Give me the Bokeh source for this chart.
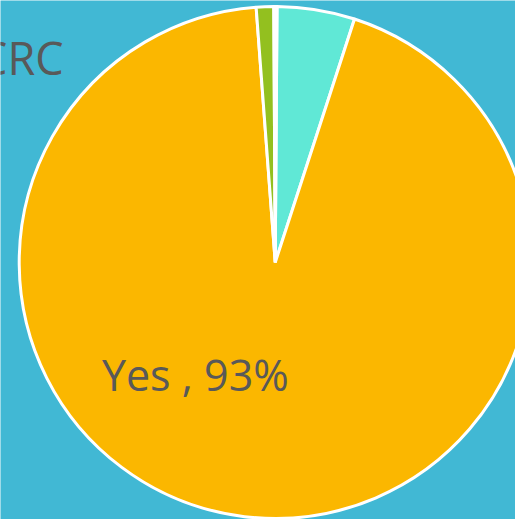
import math
from bokeh.plotting import figure
from bokeh.models import Range1d, ColumnDataSource, Label
from bokeh.embed import file_html
from bokeh.resources import INLINE

# data
categories = ["No", "Yes", "Unknown", "Other"]
shares = [4.9, 93.8, 1.1, 0.2]
colors = ["#60E8D6", "#FBB700", "#93C01F", "#FFFFFF"]
slice_labels = ["", "Yes , 93%", "", ""]
title_text = "CRC"

W, H = 515, 519
RW, RH = 523, 527
p = figure(width=W, height=H, output_backend="svg", toolbar_location=None,
           x_range=Range1d(0, RW), y_range=Range1d(0, RH),
           min_border=0, background_fill_color="#41B8D4",
           border_fill_color="#41B8D4", outline_line_color=None)
p.axis.visible = False
p.grid.visible = False

cx, cy, r = 279, RH - 266, 260
offset = math.radians(0.4)
total = sum(shares)
starts, ends = [], []
cum = 0.0
for s in shares:
    a0 = math.pi / 2 - offset - 2 * math.pi * cum / total
    cum += s
    a1 = math.pi / 2 - offset - 2 * math.pi * cum / total
    starts.append(a1)
    ends.append(a0)

src = ColumnDataSource(dict(cat=categories, start=starts, end=ends, color=colors))
p.wedge(x=cx, y=cy, radius=r, start_angle="start", end_angle="end",
        fill_color="color", line_color="white", line_width=3, source=src)

p.add_layout(Label(x=103, y=RH - 380, text=slice_labels[1], text_font="Open Sans",
                   text_font_size="43px", text_color="#595959", text_align="left",
                   text_baseline="alphabetic"))
p.add_layout(Label(x=64, y=RH - 58, text=title_text, text_font="Open Sans",
                   text_font_size="45px", text_color="#595959", text_align="right",
                   text_baseline="alphabetic"))

open("out.html", "w").write(file_html(p, INLINE))
